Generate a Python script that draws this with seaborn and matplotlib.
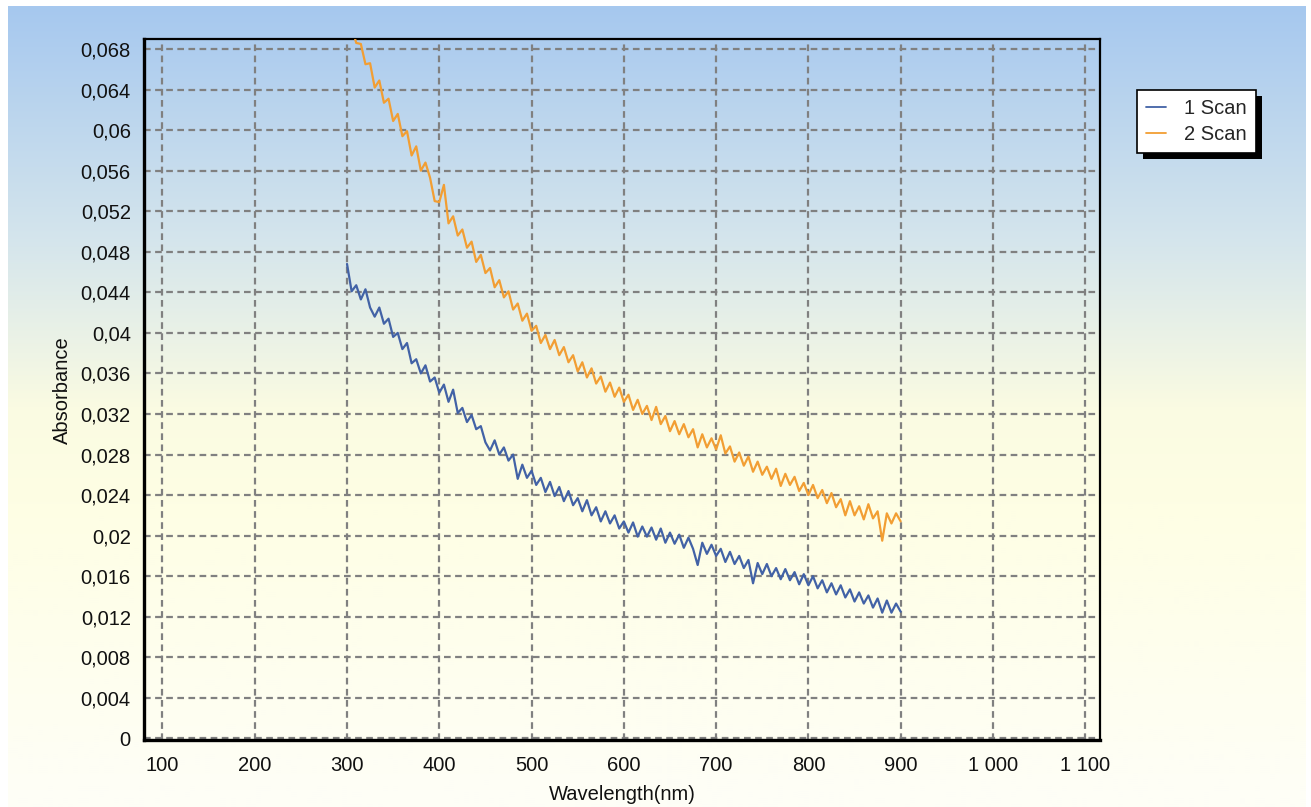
import numpy as np
import pandas as pd
import matplotlib
matplotlib.use("Agg")
import matplotlib.pyplot as plt
import seaborn as sns
from matplotlib.ticker import MultipleLocator, FuncFormatter
from matplotlib.patches import Rectangle

# ---------------- data ----------------
wl_scan1 = list(range(300, 905, 5))
abs_scan1 = [
    0.0468, 0.0441, 0.0447, 0.0433, 0.0443, 0.0425, 0.0416, 0.0425, 0.0409, 0.0414,
    0.0396, 0.0400, 0.0384, 0.0390, 0.0370, 0.0374, 0.0360, 0.0368, 0.0352, 0.0356,
    0.0341, 0.0349, 0.0332, 0.0344, 0.0321, 0.0326, 0.0312, 0.0319, 0.0305, 0.0308,
    0.0292, 0.0284, 0.0294, 0.0280, 0.0287, 0.0274, 0.0280, 0.0256, 0.0270, 0.0257,
    0.0264, 0.0250, 0.0257, 0.0243, 0.0253, 0.0239, 0.0248, 0.0234, 0.0244, 0.0230,
    0.0237, 0.0224, 0.0235, 0.0220, 0.0228, 0.0214, 0.0224, 0.0212, 0.0220, 0.0207,
    0.0214, 0.0203, 0.0213, 0.0199, 0.0209, 0.0199, 0.0208, 0.0196, 0.0207, 0.0193,
    0.0203, 0.0192, 0.0201, 0.0188, 0.0198, 0.0187, 0.0171, 0.0193, 0.0182, 0.0191,
    0.0180, 0.0187, 0.0174, 0.0184, 0.0172, 0.0180, 0.0168, 0.0176, 0.0153, 0.0173,
    0.0162, 0.0172, 0.0160, 0.0168, 0.0157, 0.0167, 0.0156, 0.0164, 0.0152, 0.0162,
    0.0151, 0.0160, 0.0148, 0.0156, 0.0144, 0.0153, 0.0142, 0.0151, 0.0139, 0.0147,
    0.0135, 0.0144, 0.0133, 0.0141, 0.0129, 0.0138, 0.0124, 0.0136, 0.0124, 0.0133,
    0.0125,
]

wl_scan2 = list(range(305, 905, 5))
abs_scan2 = [
    0.0702, 0.0686, 0.0685, 0.0665, 0.0666, 0.0642, 0.0649, 0.0627, 0.0631, 0.0609,
    0.0616, 0.0594, 0.0599, 0.0575, 0.0584, 0.0560, 0.0568, 0.0553, 0.0530, 0.0529,
    0.0546, 0.0508, 0.0515, 0.0496, 0.0502, 0.0484, 0.0490, 0.0470, 0.0477, 0.0459,
    0.0464, 0.0445, 0.0452, 0.0435, 0.0441, 0.0423, 0.0429, 0.0412, 0.0419, 0.0402,
    0.0407, 0.0390, 0.0398, 0.0384, 0.0393, 0.0378, 0.0386, 0.0371, 0.0378, 0.0362,
    0.0371, 0.0356, 0.0365, 0.0350, 0.0357, 0.0342, 0.0351, 0.0337, 0.0346, 0.0332,
    0.0339, 0.0324, 0.0334, 0.0320, 0.0328, 0.0314, 0.0327, 0.0310, 0.0318, 0.0303,
    0.0313, 0.0300, 0.0310, 0.0297, 0.0305, 0.0287, 0.0300, 0.0287, 0.0296, 0.0285,
    0.0299, 0.0281, 0.0288, 0.0273, 0.0282, 0.0269, 0.0278, 0.0263, 0.0273, 0.0260,
    0.0268, 0.0256, 0.0266, 0.0249, 0.0261, 0.0250, 0.0258, 0.0244, 0.0252, 0.0240,
    0.0250, 0.0237, 0.0245, 0.0232, 0.0242, 0.0228, 0.0236, 0.0220, 0.0234, 0.0220,
    0.0229, 0.0216, 0.0231, 0.0217, 0.0224, 0.0195, 0.0222, 0.0212, 0.0222, 0.0214,
]

series_labels = ["1 Scan", "2 Scan"]
series_colors = ["#4262a6", "#f29e33"]
x_ticks = [100, 200, 300, 400, 500, 600, 700, 800, 900, 1000, 1100]
x_label = "Wavelength(nm)"
y_label = "Absorbance"

# ---------------- style ----------------
sns.set_theme(style="white")
plt.rcParams["font.family"] = ["Liberation Sans", "DejaVu Sans"]
FS = 14.5

fig = plt.figure(figsize=(13.11, 8.07), dpi=100)
fig.patch.set_facecolor("white")

# gradient panel background
W, H = 1311, 807
bg = fig.add_axes([8 / W, 0, (1306 - 8) / W, 801 / H], zorder=-10)
stops = [0.0, 0.30, 0.50, 0.62, 1.0]
cols = np.array([[166, 200, 239], [214, 230, 236], [250, 251, 226],
                 [254, 254, 228], [254, 254, 247]]) / 255.0
t = np.linspace(0, 1, 400)
grad = np.stack([np.interp(t, stops, cols[:, k]) for k in range(3)], axis=1)
bg.imshow(grad[:, None, :], aspect="auto", extent=[0, 1, 0, 1])
bg.axis("off")

ax = fig.add_axes([144 / W, 1 - 740 / H, (1100 - 144) / W, (740 - 39.3) / H])
ax.set_facecolor("none")

df1 = pd.DataFrame({"wl": wl_scan1, "abs": abs_scan1})
df2 = pd.DataFrame({"wl": wl_scan2, "abs": abs_scan2})
sns.lineplot(data=df1, x="wl", y="abs", color=series_colors[0], lw=1.6,
             label=series_labels[0], ax=ax, zorder=3)
sns.lineplot(data=df2, x="wl", y="abs", color=series_colors[1], lw=1.6,
             label=series_labels[1], ax=ax, zorder=3)

ax.set_xlim(80, 1116)
ax.set_ylim(-0.00016, 0.06896)
ax.set_xticks(x_ticks)
ax.yaxis.set_major_locator(MultipleLocator(0.004))
ax.xaxis.set_minor_locator(MultipleLocator(20))
ax.yaxis.set_minor_locator(MultipleLocator(0.0008))


def yfmt(v, pos):
    s = f"{v:.3f}".rstrip("0").rstrip(".")
    if s in ("-0", ""):
        s = "0"
    return s.replace(".", ",")


def xfmt(v, pos):
    return f"{int(round(v)):,}".replace(",", " ")


ax.yaxis.set_major_formatter(FuncFormatter(yfmt))
ax.xaxis.set_major_formatter(FuncFormatter(xfmt))

ax.grid(True, which="major", color="#808080", linestyle=(0, (3, 2)), lw=1.6)
ax.tick_params(axis="both", which="major", direction="inout", length=7, width=1.3,
               color="#808080", labelsize=FS, labelcolor="#111111", pad=6)
ax.tick_params(axis="both", which="minor", direction="in", length=3, width=1.2,
               color="#808080")
ax.tick_params(axis="x", which="major", pad=8)

for side in ["left", "bottom"]:
    ax.spines[side].set_linewidth(2.4)
    ax.spines[side].set_color("black")
for side in ["top", "right"]:
    ax.spines[side].set_linewidth(1.6)
    ax.spines[side].set_color("black")
    ax.spines[side].set_visible(True)

ax.set_xlabel(x_label, fontsize=FS, color="#111111", labelpad=7)
ax.set_ylabel(y_label, fontsize=FS, color="#111111", labelpad=6)

handles, labels = ax.get_legend_handles_labels()
ax.get_legend().remove()
leg = fig.legend(handles, labels, loc="upper left",
                 bbox_to_anchor=(1137 / W, 1 - 89.5 / H),
                 frameon=True, fancybox=False, edgecolor="black", facecolor="white",
                 framealpha=1, fontsize=FS, handlelength=1.0, handletextpad=0.9,
                 borderpad=0.45, labelspacing=0.35, borderaxespad=0)
leg.get_frame().set_linewidth(1.2)
for lh in leg.get_lines():
    lh.set_linewidth(1.3)
leg.set_zorder(20)

fig.canvas.draw()
bb = leg.get_window_extent()
inv = fig.transFigure.inverted()
(x0, y0) = inv.transform((bb.x0 + 6, bb.y0 - 6))
(x1, y1) = inv.transform((bb.x1 + 6, bb.y1 - 6))
fig.add_artist(Rectangle((x0, y0), x1 - x0, y1 - y0, transform=fig.transFigure,
                         facecolor="black", edgecolor="none", zorder=19))

fig.savefig("out.png", dpi=100)
